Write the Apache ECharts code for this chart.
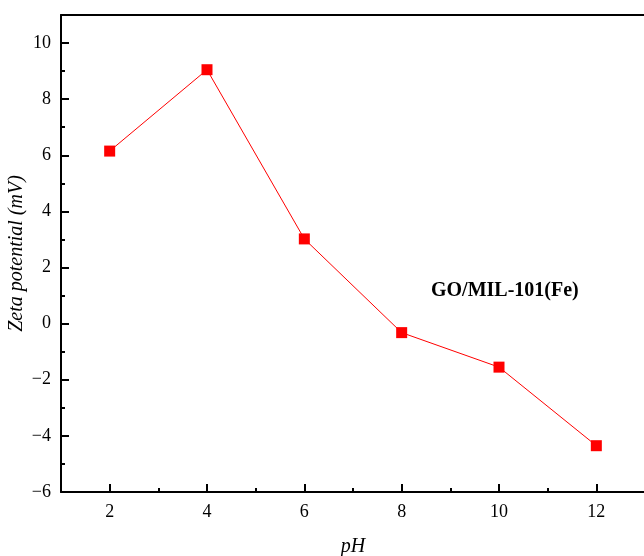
<!DOCTYPE html>
<html>
<head>
<meta charset="utf-8">
<script src="https://cdn.jsdelivr.net/npm/echarts@6/dist/echarts.min.js"></script>
<style>html,body{margin:0;padding:0;background:#fff;}#c{width:644px;height:556px;}</style>
</head>
<body>
<div id="c"></div>
<script>
const phValues = [2, 4, 6, 8, 10, 12];
const zetaValues = [6.15, 9.05, 3.02, -0.32, -1.55, -4.35];
const xMajorTicks = [2, 4, 6, 8, 10, 12];
const xMinorTicks = [3, 5, 7, 9, 11];
const sampleLabel = 'GO/MIL-101(Fe)';
const xName = 'pH';
const yName = 'Zeta potential (mV)';

const font = 'Liberation Serif';
const chart = echarts.init(document.getElementById('c'));
const fmt = v => String(v).replace('-', '\u2212');
const lineBlack = { color: '#000', width: 2 };
const labelStyle = { color: '#000', fontFamily: font, fontSize: 18 };
const nameStyle = { color: '#000', fontFamily: font, fontSize: 20, fontStyle: 'italic' };
chart.setOption({
  animation: false,
  backgroundColor: '#fff',
  grid: { left: 61, top: 15, width: 584, height: 477, containLabel: false, outerBoundsMode: 'none' },
  xAxis: [{
    type: 'value', min: 1, max: 13, position: 'bottom',
    name: xName, nameLocation: 'middle', nameGap: 45, nameMoveOverlap: false, nameTextStyle: nameStyle,
    axisLine: { show: true, onZero: false, lineStyle: lineBlack },
    axisTick: { show: true, inside: true, length: 8, lineStyle: lineBlack, customValues: xMajorTicks },
    axisLabel: Object.assign({}, labelStyle, { margin: 11, customValues: xMajorTicks, formatter: fmt }),
    splitLine: { show: false }
  }, {
    type: 'value', min: 1, max: 13, position: 'bottom', offset: 0,
    axisLine: { show: false, onZero: false },
    axisTick: { show: true, inside: true, length: 4, lineStyle: lineBlack, customValues: xMinorTicks },
    axisLabel: { show: false },
    splitLine: { show: false }
  }, {
    type: 'value', position: 'top', min: 1, max: 13,
    axisLine: { show: true, onZero: false, lineStyle: lineBlack },
    axisTick: { show: false }, axisLabel: { show: false }, splitLine: { show: false }
  }],
  yAxis: {
    type: 'value', min: -6, max: 11, interval: 2,
    name: yName, nameLocation: 'middle', nameGap: 34, nameMoveOverlap: false, nameTextStyle: nameStyle,
    axisLine: { show: true, onZero: false, lineStyle: lineBlack },
    axisTick: { show: true, inside: true, length: 8, lineStyle: lineBlack },
    minorTick: { show: true, splitNumber: 2, length: 4, lineStyle: lineBlack },
    axisLabel: Object.assign({}, labelStyle, { margin: 10, showMaxLabel: false,
      formatter: v => (v === 11 ? '' : fmt(v)) }),
    splitLine: { show: false }
  },
  series: [{
    type: 'line',
    xAxisIndex: 0,
    data: phValues.map((x, i) => [x, zetaValues[i]]),
    symbol: 'rect', symbolSize: 11,
    lineStyle: { color: '#ff0000', width: 1 },
    itemStyle: { color: '#ff0000' }
  }],
  graphic: [{
    type: 'text', left: 431, top: 281,
    style: { text: sampleLabel, fontFamily: font, fontSize: 20, fontWeight: 'bold', fill: '#000' }
  }]
});
</script>
</body>
</html>
